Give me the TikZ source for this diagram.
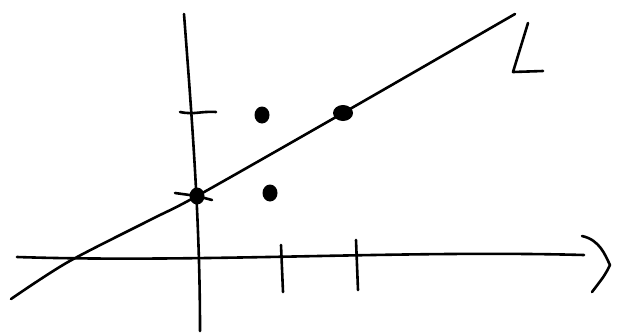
\documentclass[tikz,border=0pt]{standalone}
\usetikzlibrary{positioning,shapes.geometric}

\begin{document}
\begin{tikzpicture}[x=1pt,y=-1pt,line width=2.6pt,line cap=round,line join=round]
\useasboundingbox (0,0) rectangle (617,335);
\tikzset{pen/.style={draw,black},dot/.style={ellipse,fill=black,inner sep=0pt,minimum width=15pt,minimum height=17pt}}
% axes
\coordinate (xa) at (17,257);
\coordinate (xb) at (584,255);
\coordinate (ya) at (184,14);
\coordinate (yb) at (200,331);
\draw[pen] (xa) .. controls (200,263) and (400,250) .. (xb);
\draw[pen] (ya) .. controls (192,120) and (200,220) .. (yb);
% arrow head of x axis
\coordinate (ha) at (582,236);
\coordinate (hb) at (592,292);
\draw[pen] (ha) .. controls (600,240) and (605,255) .. (610,265) .. controls (605,275) .. (hb);
% line L
\node[dot] (p0) at (197,196) {};
\node[dot,minimum width=20pt,minimum height=16pt] (p1) at (343,113) {};
\coordinate (la) at (11,299);
\coordinate (lb) at (515,14);
\draw[pen] plot[smooth,tension=.5] coordinates {(la) (68,262) (150,220) (p0.center) (p1.center) (lb)};
\draw[pen] (528,23) -- (513,72) -- (543,71);
% ticks
\coordinate (t1a) at (281,245);
\coordinate (t1b) at (283,292);
\coordinate (t2a) at (356,240);
\coordinate (t2b) at (358,290);
\coordinate (t3a) at (180,112);
\coordinate (t3b) at (216,112);
\draw[pen] (t1a) -- (t1b);
\draw[pen] (t2a) -- (t2b);
\draw[pen] (t3a) .. controls (195,115) and (200,111) .. (t3b);
\draw[pen] (175,193) -- (p0.center) -- (212,200);
% other points
\node[dot] (p2) at (262,115) {};
\node[dot] (p3) at (270,193) {};
\end{tikzpicture}
\end{document}
